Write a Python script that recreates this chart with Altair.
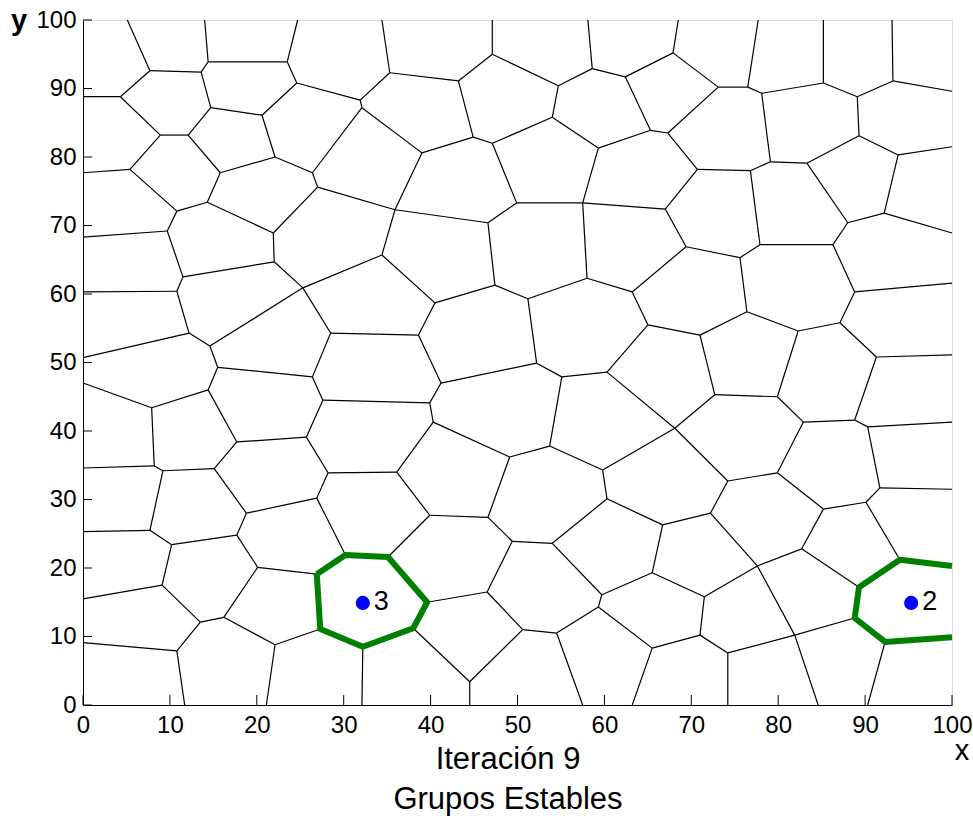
import altair as alt
import pandas as pd

# ---- Voronoi vertices (data units) ----
VERTS = [
    ("T1", 5.1, 100), ("T2", 14.0, 100), ("T3", 24.7, 100), ("T4", 34.4, 100), ("T5", 47.1, 100),
    ("T6", 58.1, 100), ("T7", 68.5, 100), ("T8", 77.7, 100), ("T9", 85.2, 100), ("T10", 93.1, 100),
    ("L1", 0, 88.8), ("L2", 0, 77.7), ("L3", 0, 68.3), ("L4", 0, 60.3), ("L5", 0, 50.7),
    ("L6", 0, 47.0), ("L7", 0, 34.6), ("L8", 0, 25.3), ("L9", 0, 15.5), ("L10", 0, 9.1),
    ("R1", 100, 89.6), ("R2", 100, 81.5), ("R3", 100, 68.9), ("R4", 100, 61.6), ("R5", 100, 51.1),
    ("R6", 100, 41.3), ("R7", 100, 31.5), ("R8", 100, 20.3), ("R9", 100, 9.9),
    ("B1", 11.7, 0), ("B2", 21.1, 0), ("B3", 32.1, 0), ("B4", 44.5, 0), ("B5", 57.5, 0),
    ("B6", 63.2, 0), ("B7", 74.2, 0), ("B8", 84.6, 0), ("B9", 90.3, 0),
    ("a1", 7.7, 92.6), ("a2", 13.6, 92.4), ("a3", 4.3, 88.8), ("a4", 14.4, 93.9), ("a5", 14.7, 87.2),
    ("a6", 23.5, 93.9), ("a7", 24.6, 90.8), ("a8", 20.6, 86.1), ("a9", 31.9, 88.3), ("a10", 8.9, 83.2),
    ("a11", 12.1, 83.2), ("a12", 22.1, 80.0), ("a13", 5.4, 78.2), ("a14", 15.8, 77.7), ("a15", 32.1, 87.2),
    ("a16", 26.4, 77.7), ("a17", 27.0, 75.6), ("a18", 10.8, 72.1), ("a19", 14.3, 73.4), ("a20", 21.9, 68.9),
    ("a21", 9.7, 69.2),
    ("b1", 35.3, 92.3), ("b2", 43.2, 91.1), ("b3", 47.1, 95.0), ("b4", 44.9, 82.9), ("b5", 39.0, 80.6),
    ("b6", 54.7, 90.4), ("b7", 35.9, 72.3), ("b8", 54.0, 85.8), ("b9", 58.6, 92.9), ("b10", 62.4, 91.7),
    ("b11", 65.3, 83.9), ("b12", 59.3, 81.3), ("b13", 47.1, 82.0), ("b14", 49.9, 73.3), ("b15", 57.5, 73.3),
    ("b16", 46.6, 70.4),
    ("d1", 67.9, 95.2), ("d2", 73.1, 90.2), ("d3", 67.3, 83.5), ("d4", 76.5, 90.2), ("d5", 78.1, 89.3),
    ("d6", 85.2, 90.8), ("d7", 67.0, 72.4), ("d20", 89.1, 88.8), ("d8", 93.2, 91.1), ("d9", 79.1, 79.3),
    ("d10", 89.3, 83.1), ("d11", 70.7, 78.2), ("d12", 76.8, 78.0), ("d13", 77.9, 67.2), ("d14", 83.3, 79.1),
    ("d15", 88.0, 70.4), ("d16", 93.8, 80.3), ("d17", 92.2, 71.8), ("d18", 86.3, 67.2), ("d19", 69.4, 66.9),
    ("e1", 34.4, 65.7), ("e3", 47.4, 61.3), ("e4", 40.5, 58.7), ("e5", 58.0, 62.3), ("e6", 38.6, 54.0),
    ("e7", 63.2, 60.3), ("e8", 51.2, 59.3), ("e9", 52.2, 49.9), ("e10", 65.0, 55.5), ("e11", 60.3, 48.6),
    ("e12", 41.2, 47.0), ("e13", 39.9, 44.1), ("e14", 55.1, 47.9), ("e15", 53.7, 37.8), ("e17", 59.8, 34.3),
    ("e18", 40.3, 41.3), ("e19", 49.1, 36.2), ("e20", 36.1, 34.0), ("X", 68.1, 40.4),
    ("f2", 75.6, 65.3), ("f3", 88.8, 60.3), ("f4", 76.4, 57.4), ("f5", 71.0, 54.0), ("f6", 87.1, 55.8),
    ("f7", 72.7, 45.3), ("f8", 82.3, 54.6), ("f9", 79.9, 45.0), ("f11", 91.3, 50.8), ("f12", 88.8, 41.6),
    ("f13", 82.9, 41.3), ("f14", 79.9, 33.9), ("f15", 90.3, 40.6),
    ("h1", 74.2, 32.7), ("h2", 72.2, 28.0), ("h3", 85.2, 28.6), ("h4", 90.1, 29.6), ("h5", 77.6, 20.3),
    ("h6", 91.7, 31.7), ("h7", 82.7, 22.8), ("h8", 71.5, 15.8), ("h9", 81.9, 10.2), ("h10", 71.0, 10.2),
    ("h11", 74.2, 7.6),
    ("g2", 39.9, 27.7), ("g3", 46.6, 27.4), ("g4", 49.4, 23.9), ("g5", 60.3, 30.1), ("g6", 54.0, 23.6),
    ("g7", 46.5, 16.5), ("g8", 66.7, 26.3), ("g9", 59.7, 16.1), ("g10", 65.5, 19.3), ("g11", 59.3, 14.3),
    ("g12", 54.5, 10.5), ("g13", 65.5, 8.3), ("g14", 50.6, 11.0), ("g15", 44.5, 3.4),
    ("c1", 11.5, 62.5), ("c2", 22.0, 64.7), ("c3", 25.3, 60.9), ("c4", 10.8, 60.4), ("c5", 14.6, 52.4),
    ("c6", 28.5, 54.3), ("c7", 12.2, 54.3), ("c8", 15.5, 49.3), ("c9", 27.6, 44.5), ("c10", 26.4, 47.9),
    ("c11", 14.4, 46.0), ("c12", 25.7, 39.1), ("c13", 7.9, 43.4), ("c14", 17.7, 38.4), ("c15", 28.2, 33.9),
    ("c16", 8.2, 34.9), ("c17", 15.1, 34.5), ("c18", 9.2, 34.2),
    ("i1", 7.7, 25.5), ("i2", 18.8, 28.0), ("i3", 26.9, 30.2), ("i4", 10.2, 23.4), ("i5", 17.7, 24.8),
    ("i6", 9.1, 17.5), ("i7", 20.1, 20.1), ("i8", 16.2, 12.8), ("i9", 13.5, 12.1), ("i10", 10.8, 7.9),
    ("i11", 22.1, 8.8),
    ("G3a", 26.9, 19.1), ("G3b", 30.2, 21.9), ("G3c", 35.1, 21.6), ("G3d", 39.6, 15.0), ("G3e", 38.0, 11.2),
    ("G3f", 32.2, 8.5), ("G3g", 27.3, 11.1),
    ("G2a", 94.0, 21.2), ("G2b", 89.3, 17.2), ("G2c", 88.8, 12.7), ("G2d", 92.3, 9.2),
]

# ---- Voronoi edges (pairs of vertex names) ----
EDGES = """
T1-a1 a1-a2 a1-a3 a2-a4 a2-a5 a4-T2 a4-a6 a6-T3 a6-a7 a7-a8 a7-a9 a3-L1 a3-a10 a5-a11 a5-a8
a10-a11 a10-a13 a11-a14 a9-a15 a9-b1 a15-b5 a15-a16 a8-a12 a12-a16 a12-a14 a16-a17 a13-L2 a13-a18
a14-a19 a19-a18 a19-a20 a18-a21 a17-a20 a17-b7 a20-c2 a21-L3 a21-c1
b1-T4 b1-b2 b2-b3 b2-b4 b3-T5 b3-b6 b6-b8 b6-b9 b9-T6 b9-b10 b10-b11 b10-d1 b11-b12 b11-d3 b4-b13
b4-b5 b13-b8 b13-b14 b8-b12 b12-b15 b5-b7 b7-b16 b7-e1 b16-b14 b16-e3 b14-b15 b15-d7 b15-e5
d1-T7 d1-d2 d2-d4 d2-d3 d4-T8 d4-d5 d5-d6 d5-d9 d6-T9 d6-d20 d20-d8 d20-d10 d8-T10 d8-R1 d3-d11
d11-d12 d11-d7 d12-d9 d12-d13 d9-d14 d14-d10 d14-d15 d10-d16 d16-R2 d16-d17 d17-d15 d17-R3 d15-d18
d7-d19 d13-d18 d13-f2 d18-f3 d19-f2 d19-e7
e1-c3 e1-e4 e4-e3 e4-e6 e3-e8 e8-e5 e8-e9 e5-e7 e7-e10 e10-f5 e10-e11 e6-c6 e6-e12 e12-e9 e12-e13
e9-e14 e14-e11 e14-e15 e11-X e13-c9 e13-e18 e18-e19 e18-e20 e19-e15 e19-g3 e15-e17 e17-X e17-g5
e20-c15 e20-g2
f2-f4 f3-R4 f3-f6 f4-f5 f4-f8 f5-f7 f8-f6 f8-f9 f6-f11 f11-R5 f11-f12 f7-f9 f7-X f9-f13 f13-f12
f13-f14 f12-f15 f15-R6 f15-h6 f14-h1 f14-h3 X-h1
h1-h2 h2-g8 h2-h5 h3-h4 h3-h7 h4-h6 h4-G2a h6-R7 h7-h5 h7-G2b h5-h8 h5-h9 h8-g10 h8-h10 h10-g13
h10-h11 h11-h9 h11-B7 h9-G2c h9-B8
g2-g3 g2-G3c g3-g4 g4-g6 g4-g7 g6-g5 g6-g9 g5-g8 g8-g10 g10-g9 g9-g11 g11-g12 g11-g13 g13-B6
g12-g14 g12-B5 g14-g7 g14-g15 g7-G3d g15-G3e g15-B4
c1-c2 c1-c4 c2-c3 c3-c5 c3-c6 c4-L4 c4-c7 c7-c5 c7-L5 c5-c8 c6-c10 c8-c10 c8-c11 c10-c9 c9-c12
c11-c13 c11-c14 c13-L6 c13-c16 c14-c12 c14-c17 c12-c15 c16-L7 c16-c18 c18-c17 c18-i1 c17-i2 c15-i3
i1-L8 i1-i4 i2-i3 i2-i5 i3-G3b i4-i5 i4-i6 i5-i7 i7-i8 i7-G3a i6-L9 i6-i9 i9-i8 i9-i10 i8-i11
i11-G3g i11-B2 i10-L10 i10-B1 G3f-B3 G2d-B9
""".split()

# ---- stable groups (highlighted cells) ----
GROUP_PATHS = {
    "3": ["G3a", "G3b", "G3c", "G3d", "G3e", "G3f", "G3g", "G3a"],
    "2": ["R8", "G2a", "G2b", "G2c", "G2d", "R9"],
}
SEED_X = [32.2, 95.3]
SEED_Y = [14.9, 14.9]
SEED_LABEL = ["3", "2"]

TICKS = list(range(0, 101, 10))
TITLE_LINES = ["Iteración 9", "Grupos Estables"]

# ---- build tables ----
vx = {n: x for n, x, y in VERTS}
vy = {n: y for n, x, y in VERTS}
seg = pd.DataFrame(
    [{"x": vx[a], "y": vy[a], "x2": vx[b], "y2": vy[b]} for a, b in (e.split("-") for e in EDGES)]
)
grp = pd.DataFrame(
    [{"g": g, "i": i, "x": vx[n], "y": vy[n]} for g, path in GROUP_PATHS.items() for i, n in enumerate(path)]
)
seeds = pd.DataFrame({"x": SEED_X, "y": SEED_Y, "label": SEED_LABEL})
ticks = pd.DataFrame({"t": TICKS})

W, H = 869, 685
FONT = "Liberation Sans"
xs = alt.Scale(domain=[0, 100], nice=False, zero=False)
ys = alt.Scale(domain=[0, 100], nice=False, zero=False)
xaxis = alt.Axis(values=TICKS, ticks=False, grid=False, domainColor="black", labelColor="black",
                 labelFont=FONT, labelFontSize=24, labelPadding=8, labelFlush=False, title=None)
yaxis = alt.Axis(values=TICKS, ticks=False, grid=False, domainColor="black", labelColor="black",
                 labelFont=FONT, labelFontSize=24, labelPadding=7, labelFlush=False, title=None)

edges = alt.Chart(seg).mark_rule(color="black", strokeWidth=1.2).encode(
    x=alt.X("x:Q", scale=xs, axis=xaxis), y=alt.Y("y:Q", scale=ys, axis=yaxis),
    x2="x2:Q", y2="y2:Q")

green = alt.Chart(grp).mark_line(color="#008000", strokeWidth=6, strokeJoin="round").encode(
    x=alt.X("x:Q", scale=xs), y=alt.Y("y:Q", scale=ys), detail="g:N", order="i:Q")

pts = alt.Chart(seeds).mark_circle(color="#0000ff", opacity=1, size=200).encode(
    x=alt.X("x:Q", scale=xs), y=alt.Y("y:Q", scale=ys))

lbl = alt.Chart(seeds).mark_text(align="left", baseline="middle", dx=11, dy=-1, fontSize=27,
                                  font=FONT, color="black").encode(
    x=alt.X("x:Q", scale=xs), y=alt.Y("y:Q", scale=ys), text="label:N")

xt = alt.Chart(ticks).mark_rule(color="black").encode(
    x=alt.X("t:Q", scale=xs), y=alt.value(H), y2=alt.value(H - 10))
yt = alt.Chart(ticks).mark_rule(color="black").encode(
    y=alt.Y("t:Q", scale=ys), x=alt.value(0), x2=alt.value(9))

xlab = alt.Chart(pd.DataFrame({"s": ["x"]})).mark_text(
    fontSize=29, font=FONT, color="black", baseline="middle", align="center").encode(
    text="s:N", x=alt.value(W + 10), y=alt.value(H + 46))
ylab = alt.Chart(pd.DataFrame({"s": ["y"]})).mark_text(
    fontSize=29, font=FONT, color="black", baseline="middle", align="center", fontWeight="bold").encode(
    text="s:N", x=alt.value(-64), y=alt.value(1))

t1 = alt.Chart(pd.DataFrame({"s": [TITLE_LINES[0]]})).mark_text(
    fontSize=31, font=FONT, color="black", baseline="middle", align="center").encode(
    text="s:N", x=alt.value(425), y=alt.value(H + 55))
t2 = alt.Chart(pd.DataFrame({"s": [TITLE_LINES[1]]})).mark_text(
    fontSize=31, font=FONT, color="black", baseline="middle", align="center").encode(
    text="s:N", x=alt.value(425), y=alt.value(H + 95))

chart = alt.layer(edges, green, pts, lbl, xt, yt, xlab, ylab, t1, t2).properties(
    width=W, height=H,
    padding={"left": 83, "top": 20, "right": 21, "bottom": 113},
    autosize=alt.AutoSizeParams(type="none"),
).configure_view(stroke=None).configure(background="white")

chart.save("out.html", embed_options={"renderer": "svg", "actions": False})
